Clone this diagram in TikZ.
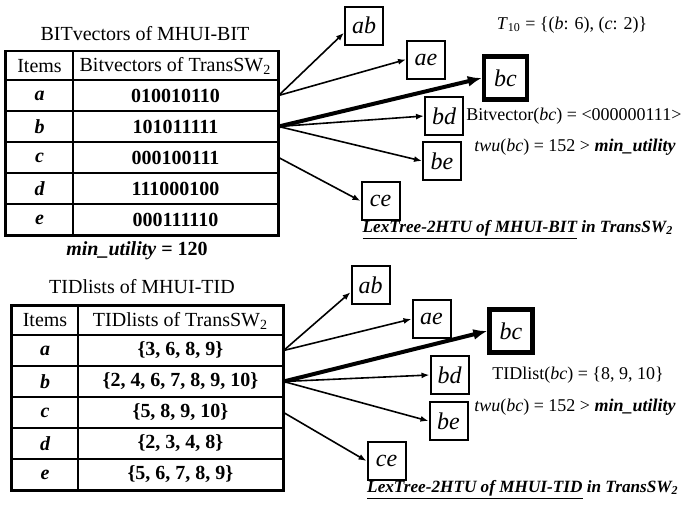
\documentclass[tikz,border=0pt]{standalone}
\usepackage{fontspec}
\setmainfont{Liberation Serif}
\usetikzlibrary{arrows.meta}
\tikzset{
  cell_hd/.style={draw,line width=0.6pt,inner sep=0pt,minimum height=14.5pt},
  cell_it/.style={draw,line width=0.6pt,inner sep=0pt,minimum width=33.5pt,minimum height=15.5pt,font=\bfseries\itshape},
  cell_val/.style={draw,line width=0.6pt,inner sep=0pt,minimum width=102.5pt,minimum height=15.5pt,font=\bfseries},
  nd_box/.style={draw,line width=1pt,minimum size=19pt,inner sep=0pt,font=\large\itshape},
  nd_best/.style={nd_box,line width=2.2pt,minimum size=21.5pt},
  arr/.style={-{Latex[length=4pt,width=3pt]},line width=0.8pt},
  arr_best/.style={-{Latex[length=7pt,width=5.5pt]},line width=2pt},
  lbl/.style={inner sep=0pt,font=\small},
  tree_caption/.style={inner sep=0pt,font=\fontsize{8.6}{10}\selectfont\bfseries\itshape},
}

\begin{document}
\begin{tikzpicture}[x=0.5pt,y=-0.5pt]
\useasboundingbox (0,0) rectangle (687,514);
% BIT table
\node (bTi) at (145,34) {BITvectors of MHUI-BIT};
\node[cell_hd,minimum width=33.5pt]  (bI) at (39.5,66) {Items};
\node[cell_hd,minimum width=102.5pt] (bH) at (175.5,66) {Bitvectors of TransSW\textsubscript{2}};
\node[cell_it]  (bka) at (39.5,95.5)  {a};
\node[cell_val] (bva) at (175.5,95.5) {010010110};
\node[cell_it]  (bkb) at (39.5,126.5)  {b};
\node[cell_val] (bvb) at (175.5,126.5) {101011111};
\node[cell_it]  (bkc) at (39.5,157.5)  {c};
\node[cell_val] (bvc) at (175.5,157.5) {000100111};
\node[cell_it]  (bkd) at (39.5,188.5)  {d};
\node[cell_val] (bvd) at (175.5,188.5) {111000100};
\node[cell_it]  (bke) at (39.5,219.5)  {e};
\node[cell_val] (bve) at (175.5,219.5) {000111110};
\draw[line width=1.4pt] (bI.north west) rectangle (bve.south east);
\node (bM) at (137,251) {\textbf{\textit{min\_utility} = 120}};
% BIT tree
\node[nd_box]  (bab) at (364,25.5) {ab};
\node[nd_box]  (bae) at (426,59.5) {ae};
\node[nd_best] (bbc) at (505.5,78) {bc};
\node[nd_box]  (bbd) at (444,116) {bd};
\node[nd_box]  (bbe) at (442,161) {be};
\node[nd_box]  (bce) at (380.5,201) {ce};
\draw[arr](bva.east)--(bab.200);
\draw[arr](bva.east)--(bae.west);
\draw[arr_best](bvb.east)--(bbc.west);
\draw[arr](bvb.east)--(bbd.west);
\draw[arr](bvb.east)--(bbe.west);
\draw[arr](bvc.east)--(bce.west);
\node[lbl] (bT) at (572,25) {\textit{T}\textsubscript{10} = \{(\textit{b}: 6), (\textit{c}: 2)\}};
\node[lbl,anchor=west] (bV) at (466,116) {Bitvector(\textit{bc}) = <000000111>};
\node[lbl] (bW) at (575,147) {\textit{twu}(\textit{bc}) = 152 > \textbf{\textit{min\_utility}}};
\node[tree_caption] (bL) at (518,230) {\underline{LexTree-2HTU of MHUI-BIT} in TransSW\textsubscript{2}};
% TID table
\node (tTi) at (142,287) {TIDlists of MHUI-TID};
\node[cell_hd,minimum width=33pt]    (tI) at (45,320.5) {Items};
\node[cell_hd,minimum width=102.5pt] (tH) at (180.5,320.5) {TIDlists of TransSW\textsubscript{2}};
\node[cell_it,minimum width=33pt] (tka) at (45,350.5)  {a};
\node[cell_val] (tva) at (180.5,350.5) {\{3, 6, 8, 9\}};
\node[cell_it,minimum width=33pt] (tkb) at (45,381.5)  {b};
\node[cell_val] (tvb) at (180.5,381.5) {\{2, 4, 6, 7, 8, 9, 10\}};
\node[cell_it,minimum width=33pt] (tkc) at (45,412.5)  {c};
\node[cell_val] (tvc) at (180.5,412.5) {\{5, 8, 9, 10\}};
\node[cell_it,minimum width=33pt] (tkd) at (45,443.5)  {d};
\node[cell_val] (tvd) at (180.5,443.5) {\{2, 3, 4, 8\}};
\node[cell_it,minimum width=33pt] (tke) at (45,474.5)  {e};
\node[cell_val] (tve) at (180.5,474.5) {\{5, 6, 7, 8, 9\}};
\draw[line width=1.4pt] (tI.north west) rectangle (tve.south east);
% TID tree
\node[nd_box]  (tab) at (370.5,285) {ab};
\node[nd_box]  (tae) at (431.5,319) {ae};
\node[nd_best] (tbc) at (511,331) {bc};
\node[nd_box]  (tbd) at (449.5,375) {bd};
\node[nd_box]  (tbe) at (448.5,421) {be};
\node[nd_box]  (tce) at (386.5,461) {ce};
\draw[arr](tva.east)--(tab.200);
\draw[arr](tva.east)--(tae.west);
\draw[arr_best](tvb.east)--(tbc.west);
\draw[arr](tvb.east)--(tbd.west);
\draw[arr](tvb.east)--(tbe.west);
\draw[arr](tvc.east)--(tce.west);
\node[lbl] (tV) at (578,375) {TIDlist(\textit{bc}) = \{8, 9, 10\}};
\node[lbl] (tW) at (575,407) {\textit{twu}(\textit{bc}) = 152 > \textbf{\textit{min\_utility}}};
\node[tree_caption] (tL) at (523,490) {\underline{LexTree-2HTU of MHUI-TID} in TransSW\textsubscript{2}};
\end{tikzpicture}
\end{document}
